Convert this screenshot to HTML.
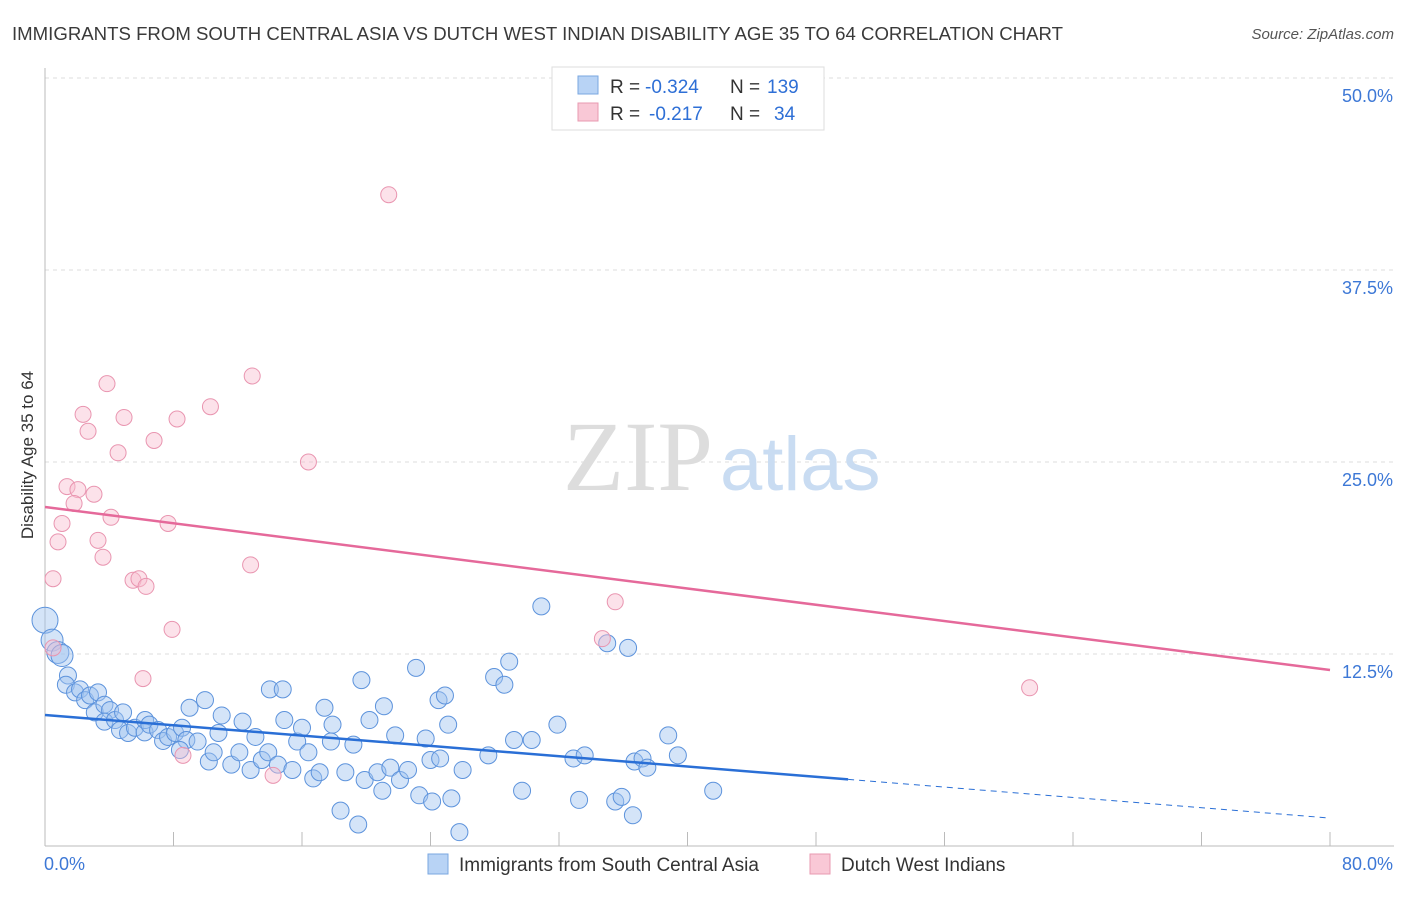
<!DOCTYPE html>
<html><head><meta charset="utf-8"><style>
body{margin:0;background:#fff;font-family:"Liberation Sans",sans-serif;}
svg text{font-family:"Liberation Sans",sans-serif;}
</style></head><body>
<svg id="chart" width="1406" height="892" xmlns="http://www.w3.org/2000/svg">
<text x="12" y="40" font-size="18" fill="#3a3a3a" textLength="1051" lengthAdjust="spacingAndGlyphs">IMMIGRANTS FROM SOUTH CENTRAL ASIA VS DUTCH WEST INDIAN DISABILITY AGE 35 TO 64 CORRELATION CHART</text>
<text x="1394" y="39" font-size="15" fill="#555" text-anchor="end" font-style="italic">Source: ZipAtlas.com</text>
<g id="grid"></g>
<text x="713" y="490" font-size="100" fill="#ddd" text-anchor="end" style="font-family:'Liberation Serif',serif">ZIP</text>
<text x="720" y="490" font-size="76" fill="#c9dcf2">atlas</text>
<g id="marks"></g>
<text transform="translate(33,455) rotate(-90)" font-size="17" fill="#333" text-anchor="middle">Disability Age 35 to 64</text>
<g>
<rect x="552" y="67" width="272" height="63" fill="#fff" stroke="#ddd"/>
<rect x="578" y="76" width="20" height="18" fill="#b8d3f5" stroke="#7aa7e0"/>
<text x="610" y="93" font-size="19" fill="#333">R =</text>
<text x="645" y="93" font-size="19" fill="#2e6fd6">-0.324</text>
<text x="730" y="93" font-size="19" fill="#333">N =</text>
<text x="767" y="93" font-size="19" fill="#2e6fd6">139</text>
<rect x="578" y="103" width="20" height="18" fill="#f9c8d6" stroke="#e89ab0"/>
<text x="610" y="120" font-size="19" fill="#333">R =</text>
<text x="649" y="120" font-size="19" fill="#2e6fd6">-0.217</text>
<text x="730" y="120" font-size="19" fill="#333">N =</text>
<text x="774" y="120" font-size="19" fill="#2e6fd6">34</text>
</g>
<g>
<rect x="428" y="854" width="20" height="20" fill="#b8d3f5" stroke="#7aa7e0"/>
<text x="459" y="871" font-size="19" fill="#333">Immigrants from South Central Asia</text>
<rect x="810" y="854" width="20" height="20" fill="#f9c8d6" stroke="#e89ab0"/>
<text x="841" y="871" font-size="19" fill="#333">Dutch West Indians</text>
</g>
</svg>
<script>
const yTicks=[12.5,25,37.5,50];
const yTickLabels=["12.5%","25.0%","37.5%","50.0%"];
const xTickLabels=["0.0%","80.0%"];
const pinkX=[21.4,3.86,12.9,2.37,4.92,8.22,10.3,2.68,6.79,4.55,16.4,1.37,2.05,3.05,1.81,4.11,1.06,7.66,0.81,3.30,3.61,12.8,0.5,5.48,5.85,6.29,7.91,34.7,35.5,0.5,6.10,61.3,8.59,14.2];
const pinkY=[42.4,30.1,30.6,28.1,27.9,27.8,28.6,27.0,26.4,25.6,25.0,23.4,23.2,22.9,22.3,21.4,21.0,21.0,19.8,19.9,18.8,18.3,17.4,17.3,17.4,16.9,14.1,13.5,15.9,12.9,10.9,10.3,5.9,4.6];
const blueX=[0,0.44,0.8,1.06,1.43,1.3,1.87,2.18,2.5,2.8,3.3,3.1,3.7,4.05,3.7,4.36,4.86,4.67,5.17,5.6,6.2,6.23,6.5,7.04,7.35,7.66,8.1,8.53,8.8,8.4,9.0,9.5,9.96,10.2,10.5,10.8,11.0,11.6,12.1,12.3,12.8,13.1,13.5,13.9,14.0,14.8,14.5,14.9,15.4,15.7,16.0,16.4,16.7,17.1,17.4,17.8,17.9,18.4,18.7,19.2,19.5,19.7,20.2,19.9,20.7,21.0,21.1,21.5,21.8,22.1,22.6,23.1,23.3,23.7,24.0,24.1,24.6,24.5,24.9,25.1,25.3,25.8,26.0,27.6,27.96,28.6,28.9,29.2,29.7,30.3,30.9,31.9,32.9,33.25,33.6,35.0,35.5,35.9,36.3,36.6,36.7,37.2,37.5,38.8,39.4,41.6];
const blueY=[14.7,13.4,12.6,12.4,11.1,10.5,10.0,10.2,9.5,9.8,10.0,8.7,9.2,8.85,8.1,8.2,8.7,7.55,7.36,7.7,7.4,8.2,7.9,7.55,6.84,7.1,7.36,7.7,6.9,6.25,9.0,6.8,9.5,5.5,6.1,7.36,8.5,5.3,6.1,8.1,4.95,7.1,5.6,6.1,10.2,10.2,5.3,8.2,4.95,6.8,7.7,6.1,4.4,4.8,9.0,6.8,7.9,2.3,4.8,6.6,1.4,10.8,8.2,4.3,4.8,3.6,9.1,5.1,7.2,4.3,4.95,11.6,3.3,7.0,5.6,2.9,5.7,9.5,9.8,7.9,3.1,0.9,4.95,5.9,11.0,10.5,12.0,6.9,3.6,6.9,15.6,7.9,5.7,3.0,5.9,13.2,2.9,3.2,12.9,2.0,5.5,5.7,5.1,7.2,5.9,3.6];
const blueTrend=[8.53,1.82];
const pinkTrend=[22.07,11.46];
const blueSolidEnd=50;

const NS="http://www.w3.org/2000/svg";
const X=v=>45+v*(1285/80);
const Y=v=>846-v*(192/12.5);
function mk(t,a,p){const e=document.createElementNS(NS,t);for(const k in a)e.setAttribute(k,a[k]);p.appendChild(e);return e;}
const grid=document.getElementById('grid'),marks=document.getElementById('marks');
yTicks.forEach((t,i)=>{
 const l=mk('line',{x1:45,x2:1394,y1:Y(t),y2:Y(t),stroke:'#ddd','stroke-dasharray':'4,4'},grid);
 
 
 const tx=mk('text',{x:1393,y:Y(t)+24,'font-size':18,fill:'#3d78d6','text-anchor':'end'},grid);
 tx.textContent=yTickLabels[i];
 
 
});
const ax=mk('line',{x1:45,x2:1394,y1:846,y2:846,stroke:'#bbb'},grid);


const ay=mk('line',{x1:45,x2:45,y1:68,y2:846,stroke:'#bbb'},grid);


for(let i=0;i<=10;i++){const t=mk('line',{x1:X(i*8),x2:X(i*8),y1:846,y2:832,stroke:'#bbb'},grid);
 
 }
[[0,44,'start'],[80,1393,'end']].forEach((d,i)=>{const t=mk('text',{x:d[1],y:870,'font-size':18,fill:'#3d78d6','text-anchor':d[2]},grid);t.textContent=xTickLabels[i];
 
 });
blueX.forEach((x,i)=>{const r=i==0?13:(i<4?11:8.5);const c=mk('circle',{cx:X(x),cy:Y(blueY[i]),r:r,fill:'rgba(160,196,240,0.45)',stroke:'#5d93dc','stroke-width':1},marks);
 
 });
pinkX.forEach((x,i)=>{const c=mk('circle',{cx:X(x),cy:Y(pinkY[i]),r:8,fill:'rgba(248,190,208,0.45)',stroke:'#e995b0','stroke-width':1},marks);
 
 });
const by=v=>blueTrend[0]+(blueTrend[1]-blueTrend[0])*v/80;
const b1=mk('line',{x1:X(0),y1:Y(by(0)),x2:X(blueSolidEnd),y2:Y(by(blueSolidEnd)),stroke:'#2a6fd6','stroke-width':2.5},marks);


const b2=mk('line',{x1:X(blueSolidEnd),y1:Y(by(blueSolidEnd)),x2:X(80),y2:Y(by(80)),stroke:'#2a6fd6','stroke-width':1,'stroke-dasharray':'6,5'},marks);


const p1=mk('line',{x1:X(0),y1:Y(pinkTrend[0]),x2:X(80),y2:Y(pinkTrend[1]),stroke:'#e5699a','stroke-width':2.5},marks);


</script>
</body></html>
